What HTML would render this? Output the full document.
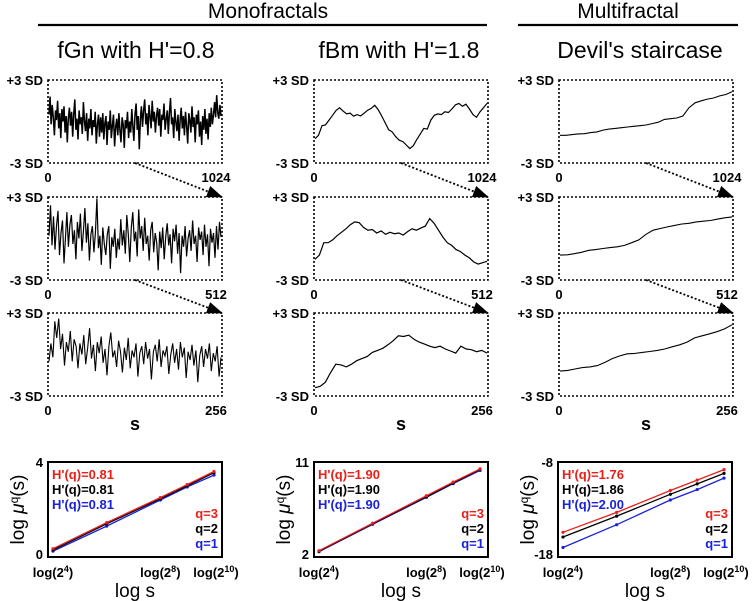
<!DOCTYPE html>
<html><head><meta charset="utf-8"><style>
html,body{margin:0;padding:0;background:#fff;width:754px;height:601px;overflow:hidden}
svg{display:block;font-family:"Liberation Sans",Arial,sans-serif}
.lb{font-weight:bold;font-size:13px}
</style></head><body>
<svg id="fig" width="754" height="601" viewBox="0 0 754 601">
<text x="268" y="18" font-size="21" text-anchor="middle">Monofractals</text>
<line x1="38" y1="25" x2="487" y2="25" stroke="#000" stroke-width="2.2"/>
<text x="628" y="18" font-size="21" text-anchor="middle">Multifractal</text>
<line x1="518" y1="25" x2="738" y2="25" stroke="#000" stroke-width="2.2"/>
<text x="136" y="58" font-size="23" text-anchor="middle">fGn with H'=0.8</text>
<text x="399" y="58" font-size="23" text-anchor="middle">fBm with H'=1.8</text>
<text x="640" y="58" font-size="23" text-anchor="middle">Devil's staircase</text>
<defs>
<marker id="ah2" markerWidth="16" markerHeight="12" refX="15" refY="6" orient="auto" markerUnits="userSpaceOnUse"><path d="M0,0 L16,6 L0,12 Z" fill="#000"/></marker></defs>
<g id="g"></g>
</svg>
<script>
// ---- time series data (SD units) ----
const fgn1=[0.5,1.8,-0.2,1.2,0.3,-1.0,0.8,0.1,1.5,-0.5,0.6,-1.2,0.9,0.0,1.1,-0.8,0.4,-1.5,0.2,1.0,-0.3,0.7,-1.1,0.5,1.6,-0.6,0.2,-1.3,0.8,-0.2,0.3,-0.9,1.4,0.0,-0.7,0.6,-1.4,0.2,-0.5,0.9,-1.0,0.1,-0.4,0.7,-1.6,-0.2,0.5,-1.1,0.3,-0.8,0.6,-1.3,-0.1,0.4,-1.7,0.0,-0.6,0.8,-1.2,-0.3,0.5,-1.8,-0.4,0.2,-1.0,0.6,-0.7,-1.5,0.3,-0.2,-1.9,0.1,-0.5,0.7,-1.2,0.0,-0.8,0.9,-0.3,-1.4,0.5,1.3,-0.6,0.4,-2.0,0.2,1.1,-0.4,0.8,1.6,-0.2,0.6,-1.0,1.2,0.3,-0.5,1.5,0.0,0.7,-0.8,0.4,1.0,-0.3,0.9,-1.1,0.5,0.1,1.3,-0.6,0.2,0.8,-0.9,0.6,1.7,-0.2,0.3,-1.2,0.9,0.0,-0.7,0.5,-1.4,0.2,1.0,-0.5,0.4,-1.0,0.7,-0.3,-1.6,0.6,0.1,-0.8,1.1,-0.4,0.3,-1.5,0.5,-0.2,0.8,-1.1,0.0,-1.7,0.4,-0.6,0.9,-0.9,0.2,-1.3,0.6,-0.4,1.0,-0.2,0.5,1.4,0.3,1.9,0.6,0.2,1.2,0.4];
const fgn2=[0.2,2.4,-0.5,1.6,-0.8,0.9,2.0,-1.2,0.4,1.3,-1.8,0.1,1.9,-0.6,1.0,1.7,-0.4,0.6,-1.5,1.2,0.0,1.8,-0.9,0.5,2.2,-0.3,1.1,-1.6,0.3,0.9,-1.0,0.4,2.9,-0.7,0.2,-1.9,0.8,-0.4,-1.2,0.3,0.9,-2.2,0.1,-0.6,0.7,-1.4,0.0,-0.8,1.4,-0.5,0.6,-1.1,1.7,0.3,-1.7,0.8,1.9,-0.2,0.5,-1.3,2.1,0.0,0.9,-0.9,1.5,-0.4,0.2,-1.6,0.6,1.2,-1.0,0.4,-0.3,-2.3,0.5,-0.7,0.8,-1.5,0.1,1.1,-0.5,0.3,-1.8,0.7,-0.2,1.0,-1.1,0.4,-2.5,0.2,-0.6,0.9,-1.3,0.0,0.6,-0.9,1.3,-0.4,0.2,-1.7,0.8,-0.1,0.5,-1.2,1.0,-0.6,0.3,-2.0,0.7,-0.3,0.4,-1.4,0.9,-0.8,1.2,0.1];
const fgn3=[-0.5,0.8,-0.2,2.4,1.2,2.6,0.4,1.5,-0.8,0.9,0.2,1.7,-0.5,1.1,0.6,-1.0,0.8,0.0,1.4,-0.7,0.5,1.9,-0.3,0.7,-1.2,0.9,0.1,1.3,-0.6,0.4,-1.5,0.6,1.6,-0.2,0.3,-0.9,1.0,0.2,-1.3,0.5,-0.4,1.2,-1.0,0.3,-0.2,0.8,-1.6,0.1,0.6,-0.7,0.9,-0.3,0.4,-1.8,0.2,0.7,-0.5,1.1,-0.9,0.3,-0.1,0.6,-1.4,0.0,0.8,-0.6,0.4,-1.1,0.9,-0.2,0.5,-1.7,0.2,-0.4,0.7,-0.8,0.3,-2.0,-0.1,0.6,-0.9,0.4,-0.3,0.8,-1.2,0.1,-0.5,0.6,-1.6,-0.2];
const fbm1=[-1.24,-1.0,-0.3,-0.25,0.1,0.45,0.8,0.99,0.75,0.55,0.6,0.38,0.5,0.4,0.6,0.82,0.95,1.18,0.85,0.4,-0.1,-0.6,-0.75,-1.1,-1.35,-1.45,-1.7,-1.96,-1.75,-1.3,-0.9,-0.5,-0.55,0.1,0.45,0.55,0.5,0.7,0.65,0.9,1.2,1.31,1.1,1.25,0.9,0.5,0.3,0.7,1.0,1.31];
const fbm2=[-1.5,-1.2,-0.3,-0.3,-0.1,0.2,0.45,0.7,1.0,1.2,1.15,0.8,0.6,0.65,0.4,0.55,0.3,0.45,0.35,0.4,0.25,0.5,0.7,0.6,0.75,0.9,1.44,1.1,0.6,0.1,-0.3,-0.5,-0.8,-0.95,-1.2,-1.4,-1.7,-1.85,-1.75,-1.65];
const fbm3=[-2.4,-2.3,-2.0,-1.3,-0.7,-0.75,-0.9,-0.7,-0.45,-0.3,-0.15,0.15,0.3,0.45,0.7,1.0,1.35,1.3,1.4,1.1,0.9,0.75,0.6,0.5,0.6,0.4,0.25,0.1,0.6,0.4,0.35,0.2,0.3,0.1];
const dev1=[-1.0,-1.0,-0.95,-0.9,-0.88,-0.8,-0.75,-0.62,-0.55,-0.5,-0.45,-0.4,-0.35,-0.3,-0.25,-0.15,-0.05,0.15,0.2,0.25,0.4,1.0,1.35,1.5,1.62,1.7,1.85,1.95,2.15];
const dev2=[-1.2,-1.18,-1.1,-1.0,-0.85,-0.8,-0.72,-0.66,-0.6,-0.5,-0.3,-0.1,0.3,0.6,0.72,0.84,0.95,1.05,1.1,1.2,1.25,1.3,1.4,1.5,1.56];
const dev3=[-1.2,-1.15,-1.05,-0.95,-0.9,-0.8,-0.57,-0.3,-0.1,0.05,0.08,0.15,0.22,0.3,0.4,0.56,0.7,0.9,1.2,1.35,1.5,1.65,1.85,2.15];
// ---- log-log data ----
const logS=[4,6,8,9,10];
const ll1={r:[0.35,1.45,2.5,3.05,3.6],k:[0.3,1.4,2.45,3.0,3.55],b:[0.25,1.3,2.4,2.95,3.45]};
const ll2={r:[2.6,5.2,7.8,9.1,10.35],k:[2.55,5.15,7.7,9.0,10.3],b:[2.5,5.1,7.65,8.95,10.2]};
const ll3={r:[-15.4,-13.3,-11.0,-9.9,-8.8],k:[-15.9,-13.7,-11.4,-10.3,-9.2],b:[-17.0,-14.6,-12.0,-10.9,-9.7]};
const hLabels1=["H'(q)=0.81","H'(q)=0.81","H'(q)=0.81"];
const hLabels2=["H'(q)=1.90","H'(q)=1.90","H'(q)=1.90"];
const hLabels3=["H'(q)=1.76","H'(q)=1.86","H'(q)=2.00"];

const NS="http://www.w3.org/2000/svg", G=document.getElementById('g');
function el(t,a,txt){const e=document.createElementNS(NS,t);for(const k in a)e.setAttribute(k,a[k]);if(txt!==undefined)e.textContent=txt;G.appendChild(e);return e;}
const cols=[{x0:48,x1:222,data:[fgn1,fgn2,fgn3],n:"fgn",w:[1.5,1.2,1.1]},{x0:314,x1:488,data:[fbm1,fbm2,fbm3],n:"fbm",w:[1.2,1.2,1.2]},{x0:559,x1:733,data:[dev1,dev2,dev3],n:"devil",w:[1.1,1.1,1.1]}];
const rows=[80,197,313], H=83, ends=["1024","512","256"];
cols.forEach((c,ci)=>{
  rows.forEach((y0,ri)=>{
    const b=el('rect',{x:c.x0,y:y0,width:c.x1-c.x0,height:H,fill:'none',stroke:'#000','stroke-width':1.6,'stroke-dasharray':'2,2'});
    
    
    const t1=el('text',{x:c.x0-5,y:y0+5,'text-anchor':'end',class:'lb'},'+3 SD');
    
    const t2=el('text',{x:c.x0-5,y:y0+H+5,'text-anchor':'end',class:'lb'},'-3 SD');
    
    const t3=el('text',{x:c.x0,y:y0+H+19,'text-anchor':'middle',class:'lb'},'0');
    
    const t4=el('text',{x:c.x1-6,y:y0+H+19,'text-anchor':'middle',class:'lb'},ends[ri]);
    
    const d=c.data[ri], n=d.length;
    const sx=i=>c.x0+1+i*(c.x1-c.x0-2)/(n-1), sy=v=>y0+H/2-v*(H/6);
    const p=el('path',{d:d.map((v,i)=>(i?'L':'M')+sx(i).toFixed(1)+','+sy(v).toFixed(1)).join(''),fill:'none',stroke:'#000','stroke-width':c.w[ri]});
    
    if(ri<2){
      const a=el('line',{x1:(c.x0+c.x1)/2,y1:y0+H,x2:c.x1,y2:rows[ri+1],stroke:'#000','stroke-width':1.8,'stroke-dasharray':'2,2','marker-end':'url(#ah2)'});
      
    }
  });
  const s=el('text',{x:(c.x0+c.x1)/2,y:430,'text-anchor':'middle','font-weight':'bold','font-size':18},'s');
  
});
// log-log plots
const ll=[{x0:48,x1:222,d:ll1,ymin:0,ymax:4,h:hLabels1,n:"fgn"},{x0:314,x1:488,d:ll2,ymin:2,ymax:11,h:hLabels2,n:"fbm"},{x0:558,x1:732,d:ll3,ymin:-18,ymax:-8,h:hLabels3,n:"devil"}];
const Y0=462,Y1=557,colr={r:'#e8201a',k:'#000',b:'#1a22d8'};
ll.forEach(p=>{
  const bx=el('rect',{x:p.x0,y:Y0,width:p.x1-p.x0,height:Y1-Y0,fill:'none',stroke:'#000','stroke-width':2});
  
  const px=(p.x1-p.x0-13)/6;
  const sx=v=>p.x0+5+(v-4)*px, sy=v=>Y1-(v-p.ymin)/(p.ymax-p.ymin)*(Y1-Y0);
  const a=el('text',{x:p.x0-5,y:Y0+5,'text-anchor':'end',class:'lb'},String(p.ymax));
  
  const b=el('text',{x:p.x0-5,y:Y1+2,'text-anchor':'end',class:'lb'},String(p.ymin));
  
  ['b','k','r'].forEach(k=>{
    const v=p.d[k];
    const pl=el('polyline',{points:logS.map((s,i)=>sx(s).toFixed(1)+','+sy(v[i]).toFixed(1)).join(' '),fill:'none',stroke:colr[k],'stroke-width':1.3});
    
    logS.forEach((s,i)=>{const c=el('circle',{cx:sx(s),cy:sy(v[i]),r:1.6,fill:colr[k]});
      });
  });
  ['r','k','b'].forEach((k,i)=>{
    const t=el('text',{x:p.x0+4,y:Y0+17+i*15,class:'lb',fill:colr[k]},p.h[i]);
    
    const q=el('text',{x:p.x1-4,y:Y0+56+i*15,'text-anchor':'end',class:'lb',fill:colr[k]},'q='+(3-i));
    
  });
  [[4,'4'],[8,'8'],[10,'10']].forEach(([s,e])=>{
    const t=el('text',{x:sx(s)+(s==10?2:0),y:577,'text-anchor':'middle',class:'lb'});
    
    t.innerHTML='log(2<tspan dy="-5" font-size="9">'+e+'</tspan><tspan dy="5">)</tspan>';
  });
  const xt=el('text',{x:(p.x0+p.x1)/2,y:597,'text-anchor':'middle','font-size':19},'log s');
  
  const yt=el('text',{x:0,y:0,'text-anchor':'middle','font-size':19,transform:'translate('+(p.x0-24)+','+((Y0+Y1)/2)+') rotate(-90)'});
  
  yt.innerHTML='log <tspan font-style="italic">μ</tspan><tspan dy="-6" font-size="12">q</tspan><tspan dy="6">(s)</tspan>';
});
</script>
</body></html>
